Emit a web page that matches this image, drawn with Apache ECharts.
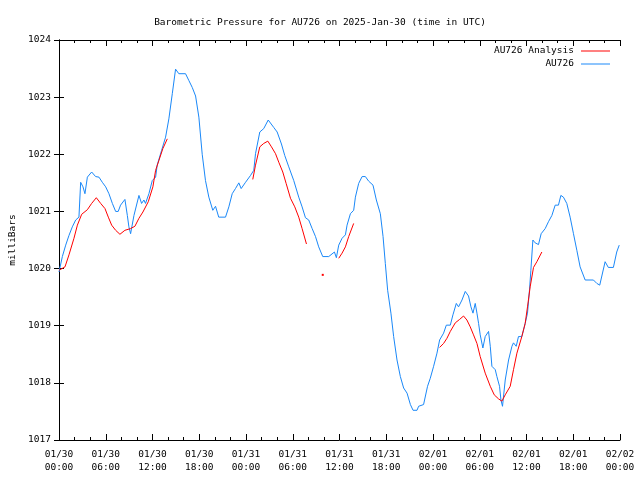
<!DOCTYPE html>
<html>
<head>
<meta charset="utf-8">
<script src="https://cdn.jsdelivr.net/npm/echarts@6/dist/echarts.min.js"></script>
<style>html,body{margin:0;padding:0;background:#fff;}#c{width:640px;height:480px;}</style>
</head>
<body>
<div id="c"></div>
<script>
// Hours since 2025-01-30 00:00 UTC
var xTickLabels = ['01/30\n00:00','01/30\n06:00','01/30\n12:00','01/30\n18:00','01/31\n00:00','01/31\n06:00','01/31\n12:00','01/31\n18:00','02/01\n00:00','02/01\n06:00','02/01\n12:00','02/01\n18:00','02/02\n00:00'];
var yTickValues = [1017,1018,1019,1020,1021,1022,1023,1024];

var obsHours = [0,0.43,0.86,1.28,1.71,2.14,2.56,2.78,3.08,3.33,3.64,4.19,4.7,5.13,5.56,5.99,6.41,6.85,7.27,7.6,7.9,8.46,8.77,8.97,9.19,9.62,10.26,10.6,10.9,11.1,11.54,11.97,12.4,12.6,13.17,13.68,14.1,14.54,14.96,15.38,16.24,16.67,17.1,17.53,17.95,18.38,18.8,19.23,19.74,20.09,20.5,21.37,21.8,22.23,22.65,23.08,23.38,23.94,24.58,25.0,25.22,25.77,26.28,26.85,27.56,28.0,28.55,28.97,29.49,30.13,30.77,31.2,31.63,32.05,32.49,32.92,33.33,33.85,34.62,35.35,35.6,35.9,36.33,36.76,36.97,37.4,37.82,38.04,38.46,38.9,39.32,39.74,40.3,40.73,41.24,41.59,41.88,42.18,42.6,42.95,43.38,43.81,44.23,44.67,45.1,45.44,45.95,46.15,46.79,47.3,47.65,48.08,48.51,48.85,49.36,49.71,50.22,50.56,50.99,51.28,51.72,52.14,52.56,52.87,53.13,53.42,53.64,53.85,54.06,54.4,54.7,55.13,55.35,55.56,55.99,56.2,56.54,56.72,56.92,57.27,57.7,58.13,58.33,58.68,58.97,59.4,59.83,60.13,60.38,60.56,60.82,61.11,61.54,61.88,62.4,62.82,63.26,63.68,64.1,64.41,64.74,65.17,65.6,66.03,66.46,66.88,67.53,68.59,69.03,69.4,70.09,70.5,71.15,71.58,71.9];
var obsValues = [1019.94,1020.21,1020.41,1020.58,1020.73,1020.85,1020.90,1021.51,1021.43,1021.31,1021.60,1021.69,1021.61,1021.60,1021.51,1021.43,1021.31,1021.14,1021.00,1021.00,1021.11,1021.21,1020.93,1020.73,1020.61,1020.93,1021.28,1021.14,1021.20,1021.14,1021.31,1021.54,1021.60,1021.81,1022.07,1022.30,1022.62,1023.06,1023.49,1023.41,1023.41,1023.29,1023.17,1023.02,1022.65,1022.00,1021.54,1021.25,1021.02,1021.09,1020.90,1020.90,1021.08,1021.31,1021.40,1021.50,1021.40,1021.51,1021.63,1021.72,1022.01,1022.39,1022.45,1022.60,1022.47,1022.39,1022.18,1021.98,1021.78,1021.54,1021.25,1021.08,1020.89,1020.85,1020.70,1020.56,1020.38,1020.21,1020.21,1020.29,1020.19,1020.41,1020.53,1020.59,1020.76,1020.96,1021.02,1021.25,1021.49,1021.61,1021.61,1021.53,1021.46,1021.20,1020.96,1020.56,1020.09,1019.62,1019.22,1018.81,1018.40,1018.11,1017.91,1017.82,1017.62,1017.52,1017.52,1017.59,1017.62,1017.94,1018.08,1018.29,1018.52,1018.75,1018.87,1019.01,1019.01,1019.19,1019.39,1019.33,1019.45,1019.60,1019.52,1019.33,1019.22,1019.39,1019.22,1019.04,1018.84,1018.61,1018.81,1018.90,1018.64,1018.29,1018.23,1018.11,1017.94,1017.70,1017.59,1018.05,1018.40,1018.64,1018.70,1018.64,1018.81,1018.81,1019.04,1019.22,1019.62,1019.97,1020.50,1020.45,1020.42,1020.61,1020.70,1020.82,1020.93,1021.11,1021.11,1021.28,1021.25,1021.14,1020.90,1020.61,1020.32,1020.03,1019.80,1019.80,1019.74,1019.71,1020.12,1020.02,1020.02,1020.29,1020.41];

// Analysis (null = gap between runs)
var anaHours = [0,0.77,1.28,1.92,2.36,2.91,3.64,4.19,4.79,5.35,5.9,6.33,6.76,7.27,7.82,8.46,9.19,9.74,10.26,10.77,11.46,12.05,12.4,12.82,13.33,13.9,
  19,
  24.87,25.22,25.77,26.28,26.8,27.27,27.79,28.21,28.72,29.15,29.71,30.26,30.77,31.2,31.76,
  32.8,
  33.85,
  34.8,
  35.9,36.33,36.76,37.18,37.82,
  43,
  48.85,49.36,49.79,50.22,50.86,51.41,51.92,52.35,52.78,53.2,53.64,54.06,54.7,55.35,55.86,56.41,56.84,57.27,57.91,58.33,58.77,59.4,59.83,60.13,60.47,60.9,61.33,61.97];
var anaValues = [1019.97,1020.03,1020.24,1020.53,1020.76,1020.95,1021.03,1021.14,1021.24,1021.14,1021.05,1020.90,1020.76,1020.67,1020.60,1020.67,1020.70,1020.74,1020.88,1020.99,1021.17,1021.43,1021.72,1021.89,1022.10,1022.27,
  null,
  1021.56,1021.81,1022.13,1022.19,1022.23,1022.13,1022.01,1021.86,1021.69,1021.49,1021.23,1021.08,1020.90,1020.70,1020.43,
  null,
  1019.89,
  null,
  1020.18,1020.27,1020.38,1020.56,1020.79,
  null,
  1018.62,1018.69,1018.78,1018.90,1019.05,1019.11,1019.17,1019.10,1018.98,1018.84,1018.69,1018.46,1018.17,1017.94,1017.79,1017.72,1017.68,1017.79,1017.94,1018.23,1018.52,1018.81,1019.04,1019.33,1019.68,1020.02,1020.12,1020.29];

var BLUE = '#1a88f8', RED = '#ff0000';
var FONT = 'DejaVu Sans Mono';

function pairs(hs, vs) {
  var out = [];
  for (var i = 0; i < hs.length; i++) {
    var isolated = vs[i] != null && (i === 0 || vs[i-1] == null) && (i === vs.length-1 || vs[i+1] == null);
    if (isolated) out.push({value: [hs[i], vs[i]], symbol: 'rect', symbolSize: 2, itemStyle: {color: RED}});
    else out.push([hs[i], vs[i] == null ? '-' : vs[i]]);
  }
  return out;
}

var chart = echarts.init(document.getElementById('c'), null, {renderer: 'canvas'});
var axisLine = {show: true, lineStyle: {color: '#000', width: 1}};
var xAxisCommon = {
  type: 'value', min: 0, max: 72, interval: 6,
  axisLine: axisLine,
  axisTick: {show: true, inside: true, length: 6, lineStyle: {color: '#000'}},
  minorTick: {show: true, splitNumber: 3, length: 3, lineStyle: {color: '#000'}},
  splitLine: {show: false}
};
var yAxisCommon = {
  type: 'value', min: yTickValues[0], max: yTickValues[yTickValues.length-1], interval: 1,
  axisLine: axisLine,
  axisTick: {show: true, inside: true, length: 5, lineStyle: {color: '#000'}},
  splitLine: {show: false}
};

chart.setOption({
  animation: false,
  backgroundColor: '#fff',
  title: {
    text: 'Barometric Pressure for AU726 on 2025-Jan-30 (time in UTC)',
    left: 'center', top: 13,
    textStyle: {fontFamily: FONT, fontSize: 9.5, fontWeight: 'normal', color: '#000'}
  },
  legend: {
    orient: 'vertical', right: 30, top: 45, align: 'right', padding: 0,
    icon: 'rect', itemWidth: 29, itemHeight: 1, itemGap: 1,
    textStyle: {fontFamily: FONT, fontSize: 9.5, color: '#000', padding: [0, 2, 0, 0], lineHeight: 12},
    data: ['AU726 Analysis', 'AU726']
  },
  grid: {left: 59, right: 20, top: 40, bottom: 40, containLabel: false, outerBoundsMode: 'none'},
  xAxis: [
    Object.assign({}, xAxisCommon, {
      position: 'bottom',
      axisLabel: {
        show: true, margin: 8, fontFamily: FONT, fontSize: 9.5, color: '#000', lineHeight: 13,
        formatter: function (v) { return xTickLabels[Math.round(v / 6)]; }
      }
    }),
    Object.assign({}, xAxisCommon, {position: 'top', axisLabel: {show: false}})
  ],
  yAxis: [
    Object.assign({}, yAxisCommon, {
      position: 'left',
      name: 'milliBars', nameLocation: 'middle', nameRotate: 90, nameGap: 41,
      nameTextStyle: {fontFamily: FONT, fontSize: 9.5, color: '#000'},
      axisLabel: {show: true, margin: 8, fontFamily: FONT, fontSize: 9.5, color: '#000',
        formatter: function (v) { return String(v); }}
    }),
    Object.assign({}, yAxisCommon, {position: 'right', axisLabel: {show: false}})
  ],
  series: [
    {
      name: 'AU726 Analysis', type: 'line', xAxisIndex: 0, yAxisIndex: 0,
      symbol: 'none', connectNulls: false,
      lineStyle: {color: RED, width: 1}, itemStyle: {color: RED},
      data: pairs(anaHours, anaValues), z: 3
    },
    {
      name: 'AU726', type: 'line', xAxisIndex: 0, yAxisIndex: 0,
      symbol: 'none',
      lineStyle: {color: BLUE, width: 1}, itemStyle: {color: BLUE},
      data: obsHours.map(function (h, i) { return [h, obsValues[i]]; }), z: 2
    }
  ]
});
</script>
</body>
</html>
